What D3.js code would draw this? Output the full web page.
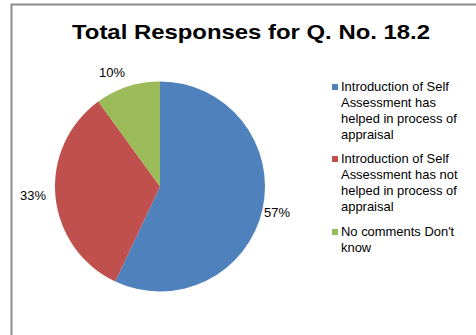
<!DOCTYPE html>
<html><head><meta charset="utf-8">
<script src="https://cdn.jsdelivr.net/npm/d3@7"></script>
<style>body{margin:0;background:#fff;}svg{display:block;font-family:Arial,"Liberation Sans",sans-serif;}</style>
</head><body>
<svg id="c" width="476" height="335"></svg>
<script>
const categories = [
  "Introduction of Self Assessment has helped in process of appraisal",
  "Introduction of Self Assessment has not helped in process of appraisal",
  "No comments Don't know"
];
const legendLines = [
  ["Introduction of Self", "Assessment has", "helped in process of", "appraisal"],
  ["Introduction of Self", "Assessment has not", "helped in process of", "appraisal"],
  ["No comments Don't", "know"]
];
const values = [57, 33, 10];
const colors = ["#4f81bd", "#c0504d", "#9bbb59"];
const title = "Total Responses for Q. No. 18.2";

const sx = 1.08;
const svg = d3.select("#c");
svg.append("path").attr("d","M11.5,335 V4.5 H476").attr("fill","none").attr("stroke","#8c8c8c").attr("stroke-width",2);

svg.append("text").attr("x",251).attr("y",39).attr("text-anchor","middle")
  .attr("font-size",21).attr("font-weight","bold").attr("fill","#000")
  .attr("textLength",358).attr("lengthAdjust","spacingAndGlyphs").text(title);

const cx=160, cy=186.5, r=105;
const pie = d3.pie().sort(null).value(d=>d);
const arcs = pie(values);
const arc = d3.arc().innerRadius(0).outerRadius(r);
const g = svg.append("g").attr("transform",`translate(${cx},${cy})`);
g.selectAll("path").data(arcs).join("path").attr("d",arc).attr("fill",(d,i)=>colors[i]);

const labelPos = [[277,213],[33,196],[112,73]];
svg.selectAll("text.l").data(arcs).join("text").attr("class","l")
  .attr("transform",(d,i)=>`translate(${labelPos[i][0]},${labelPos[i][1]}) scale(${sx},1)`)
  .attr("dy","0.35em").attr("text-anchor","middle").attr("font-size",12).attr("fill","#000")
  .text(d=>d.data+"%");

const lg = svg.append("g");
const starts = [87, 159, 232];
legendLines.forEach((lines,i)=>{
  lg.append("rect").attr("x",332).attr("y",starts[i]-3).attr("width",6).attr("height",6).attr("fill",colors[i]);
  lines.forEach((t,j)=>{
    lg.append("text").attr("transform",`translate(341,${starts[i]+j*15.9}) scale(${sx},1)`).attr("dy","0.35em")
      .attr("font-size",12).attr("fill","#000").text(t);
  });
});
</script>
</body></html>
